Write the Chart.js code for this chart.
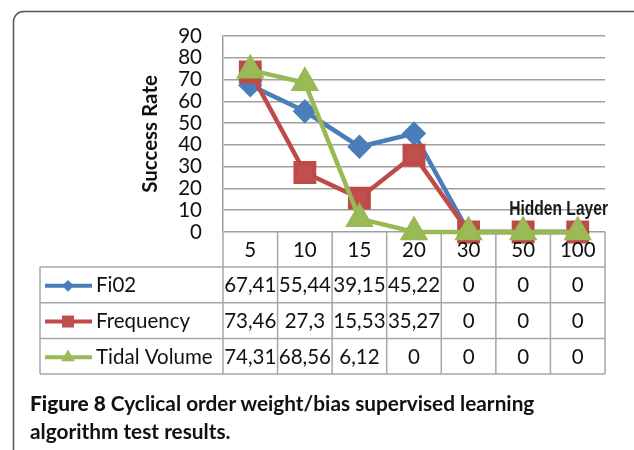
<!DOCTYPE html>
<html>
<head>
<meta charset="utf-8">
<script src="https://cdn.jsdelivr.net/npm/chart.js@4/dist/chart.umd.min.js"></script>
<style>
body{ margin:0; background:#fff; }
#wrap{ position:relative; width:634px; height:450px; overflow:hidden; }
#caption{ position:absolute; left:30px; top:389px; font-family:Lato, sans-serif; font-size:20.8px; font-weight:700; line-height:28px; color:#111; white-space:nowrap; }
#caption b{ font-weight:900; }
</style>
</head>
<body>
<div id="wrap">
<canvas id="chart" width="634" height="450"></canvas>
<div id="caption"><b>Figure 8</b> Cyclical order weight/bias supervised learning<br>algorithm test results.</div>
</div>
<script>
var categories = ['5', '10', '15', '20', '30', '50', '100'];
var fi02 = [67.41, 55.44, 39.15, 45.22, 0, 0, 0];
var frequency = [73.46, 27.3, 15.53, 35.27, 0, 0, 0];
var tidalVolume = [74.31, 68.56, 6.12, 0, 0, 0, 0];
var seriesNames = ['Fi02', 'Frequency', 'Tidal Volume'];

var font = 'Lato, sans-serif';

function fmt(v){
	return v.toString().replace('.', ',');
}

var tablePlugin = {
	id: 'tablePlugin',
	beforeDraw: function(chart){
		var ctx = chart.ctx;
		ctx.save();
		ctx.strokeStyle = '#555';
		ctx.lineWidth = 1.5;
		ctx.beginPath();
		ctx.roundRect(13.5, 11.5, 640, 470, 10);
		ctx.stroke();
		ctx.restore();
	},
	afterDraw: function(chart){
		var ctx = chart.ctx;
		var x = chart.scales.x;
		var area = chart.chartArea;
		var colW = x.width / categories.length;
		var catH = 35;
		var rowH = 35.7;
		var left = 40;
		var top = area.bottom;
		ctx.save();
		ctx.strokeStyle = '#a6a6a6';
		ctx.lineWidth = 1.5;
		ctx.beginPath();
		// category row verticals
		for(var i = 0; i <= categories.length; i++){
			var vx = area.left + i * colW;
			ctx.moveTo(vx, top);
			ctx.lineTo(vx, top + catH + rowH * 3);
		}
		// horizontal rows
		for(var r = 0; r <= 3; r++){
			var hy = top + catH + r * rowH;
			ctx.moveTo(left, hy);
			ctx.lineTo(area.right, hy);
		}
		ctx.moveTo(left, top + catH);
		ctx.lineTo(left, top + catH + rowH * 3);
		ctx.stroke();

		ctx.fillStyle = '#111';
		ctx.font = '20.5px ' + font;
		ctx.textAlign = 'center';
		ctx.textBaseline = 'middle';
		for(var i = 0; i < categories.length; i++){
			ctx.fillText(categories[i], x.getPixelForValue(i), top + catH / 2 + 1);
		}
		var sets = chart.data.datasets;
		for(var r = 0; r < sets.length; r++){
			var cy = top + catH + r * rowH + rowH / 2 + 1;
			var ds = sets[r];
			for(var i = 0; i < ds.data.length; i++){
				ctx.fillText(fmt(ds.data[i]), x.getPixelForValue(i), cy);
			}
			// legend key
			ctx.strokeStyle = ds.borderColor;
			ctx.lineWidth = 4;
			ctx.beginPath();
			ctx.moveTo(45, cy);
			ctx.lineTo(92, cy);
			ctx.stroke();
			ctx.fillStyle = ds.backgroundColor;
			Chart.helpers.drawPoint(ctx, {pointStyle: ds.pointStyle, radius: ds.pointRadius * 0.65, borderWidth: 0, rotation: 0}, 68, cy);
			ctx.fillStyle = '#111';
			ctx.textAlign = 'left';
			ctx.fillText(seriesNames[r], 96, cy);
			ctx.textAlign = 'center';
		}

		// x axis title, condensed like Arial Narrow
		ctx.font = 'bold 19.5px "Liberation Sans", sans-serif';
		ctx.textAlign = 'right';
		ctx.textBaseline = 'alphabetic';
		ctx.fillStyle = '#1a1a1a';
		ctx.translate(608, 215);
		ctx.scale(0.8, 1);
		ctx.fillText('Hidden Layer', 0, 0);
		ctx.restore();
	}
};

var ctx = document.getElementById('chart').getContext('2d');
var myChart = new Chart(ctx, {
	type: 'line',
	data: {
		labels: categories,
		datasets: [{
			label: seriesNames[0],
			data: fi02,
			borderColor: '#4a7ebb',
			backgroundColor: '#4a7ebb',
			pointStyle: 'rectRot',
			pointRadius: 9,
			borderWidth: 4.5,
			order: 3
		}, {
			label: seriesNames[1],
			data: frequency,
			borderColor: '#be4b48',
			backgroundColor: '#c0504d',
			pointStyle: 'rect',
			pointRadius: 13,
			borderWidth: 4.5,
			order: 2
		}, {
			label: seriesNames[2],
			data: tidalVolume,
			borderColor: '#98b954',
			backgroundColor: '#9bbb59',
			pointStyle: 'triangle',
			pointRadius: 12,
			borderWidth: 4.5,
			order: 1
		}]
	},
	options: {
		responsive: false,
		animation: false,
		clip: false,
		layout: { padding: { left: 136, top: 36, right: 29, bottom: 218 } },
		plugins: { legend: { display: false }, tooltip: { enabled: false } },
		elements: { line: { tension: 0 }, point: { borderWidth: 0 } },
		scales: {
			x: { display: false, offset: true },
			y: {
				min: 0,
				max: 90,
				afterFit: function(scale){ scale.width = 87; },
				ticks: { stepSize: 10, autoSkip: false, padding: 21, color: '#111', font: { family: font, size: 20.5 } },
				grid: { color: '#a0a0a0', lineWidth: 1.5, drawTicks: false },
				border: { display: true, color: '#a0a0a0', width: 1.5 },
				title: { display: true, text: 'Success Rate', color: '#111', padding: { top: 2, bottom: 0 }, font: { family: font, size: 20.5, weight: 'bold' } }
			}
		}
	},
	plugins: [tablePlugin]
});
</script>
</body>
</html>
